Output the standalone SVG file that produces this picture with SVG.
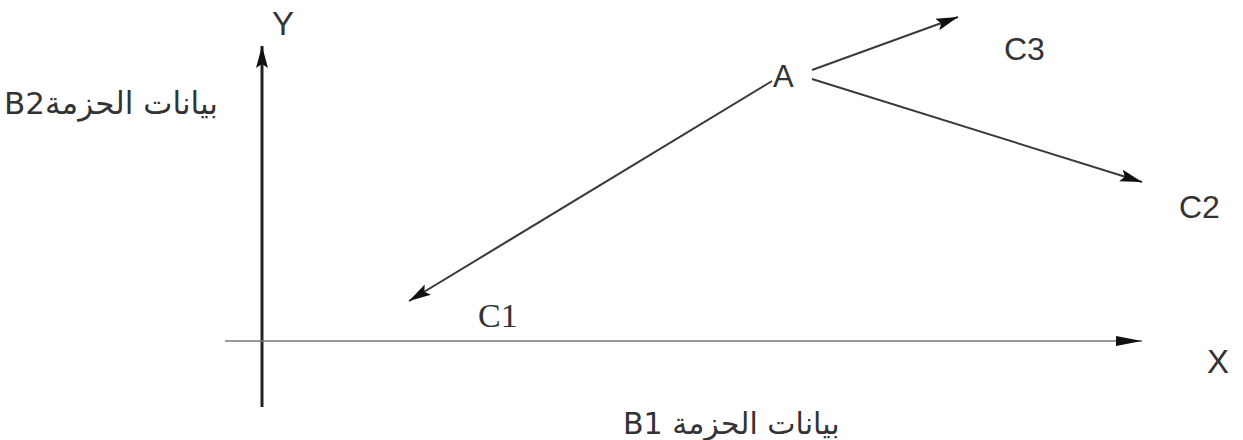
<svg xmlns="http://www.w3.org/2000/svg" width="1243" height="440" viewBox="0 0 1243 440">
<style>
.lbl{font-family:"Liberation Sans","DejaVu Sans",sans-serif;fill:#333;}
.ar{font-family:"DejaVu Sans","Liberation Sans",sans-serif;fill:#333;}
.ln{stroke:#3a3a3a;stroke-width:2;fill:none;}
</style>
<defs>
<marker id="ah" markerUnits="userSpaceOnUse" markerWidth="24" markerHeight="14" refX="22" refY="6" orient="auto">
<path d="M0,0 L22,6 L0,12 L4,6 z" fill="#111"/>
</marker>
<marker id="ahx" markerUnits="userSpaceOnUse" markerWidth="28" markerHeight="14" refX="26" refY="6" orient="auto">
<path d="M0,1 L26,6 L0,11 z" fill="#111"/>
</marker>
</defs>
<rect width="1243" height="440" fill="#fff"/>
<g id="axes">
<line x1="262" y1="407" x2="262" y2="46" stroke="#222" stroke-width="3" marker-end="url(#ah)"/>
<line x1="225" y1="341" x2="1142" y2="341" stroke="#777" stroke-width="1.6" marker-end="url(#ahx)"/>
</g>
<g id="connectors">
<line class="ln" x1="772" y1="81" x2="409" y2="301" marker-end="url(#ah)"/>
<line class="ln" x1="812" y1="70" x2="958" y2="17" marker-end="url(#ah)"/>
<line class="ln" x1="812" y1="79" x2="1142" y2="182" marker-end="url(#ah)"/>
</g>
<g id="node-A"><text class="lbl" x="773" y="87" font-size="31">A</text></g>
<g id="node-C1"><text x="478" y="327" font-size="34" font-family="Liberation Serif, serif" fill="#333">C1</text></g>
<g id="node-C2"><text class="lbl" x="1179" y="218" font-size="32">C2</text></g>
<g id="node-C3"><text class="lbl" x="1004" y="60" font-size="32">C3</text></g>
<g id="label-X"><text class="lbl" x="1207" y="373" font-size="33">X</text></g>
<g id="label-Y"><text class="lbl" x="272" y="35" font-size="33">Y</text></g>
<g id="label-B2"><text class="ar" x="4" y="114" font-size="31">B2بيانات الحزمة</text></g>
<g id="label-B1"><text class="ar" x="623" y="434" font-size="30">B1 بيانات الحزمة</text></g>
</svg>
